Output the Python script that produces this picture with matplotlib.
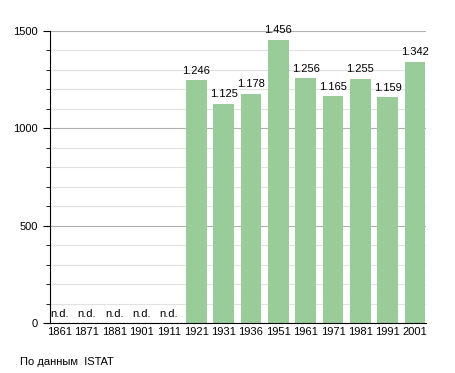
import matplotlib.pyplot as plt
from matplotlib.ticker import MultipleLocator

plt.rcParams['font.family'] = ['Liberation Sans', 'DejaVu Sans']

years = ['1861', '1871', '1881', '1901', '1911', '1921', '1931', '1936',
         '1951', '1961', '1971', '1981', '1991', '2001']
population = [None, None, None, None, None, 1246, 1125, 1178,
              1456, 1256, 1165, 1255, 1159, 1342]
bar_color = '#99cc99'


def fmt(v):
    return f"{v:,}".replace(',', '.')


fig = plt.figure(figsize=(4.55, 3.73), dpi=100)
ax = fig.add_axes([50 / 455, 1 - 323 / 373, 376 / 455, 292 / 373])

pos = list(range(len(years)))
for i, v in zip(pos, population):
    if v is None:
        ax.text(i, 22, 'n.d.', ha='center', va='bottom', fontsize=8)
    else:
        ax.bar(i, v, width=0.76, color=bar_color, zorder=2)
        ax.text(i, v + 24, fmt(v), ha='center', va='bottom', fontsize=8)

ax.set_xlim(-0.35, len(years) - 0.6)
ax.set_ylim(0, 1500)
ax.set_xticks(pos)
ax.set_xticklabels(years, fontsize=8)
ax.tick_params(axis='x', length=0, pad=3)
ax.yaxis.set_major_locator(MultipleLocator(500))
ax.yaxis.set_minor_locator(MultipleLocator(100))
ax.tick_params(axis='y', which='major', length=5, labelsize=8, pad=4)
ax.tick_params(axis='y', which='minor', length=3)
ax.grid(axis='y', which='major', color='#b0b0b0', lw=0.8, zorder=0)
ax.grid(axis='y', which='minor', color='#e2e2e2', lw=0.8, zorder=0)
ax.set_axisbelow(True)
for s in ['top', 'right']:
    ax.spines[s].set_visible(False)

fig.text(20 / 455, 1 - 362 / 373, 'По данным  ISTAT', fontsize=8, va='center')

fig.savefig('out.png')
